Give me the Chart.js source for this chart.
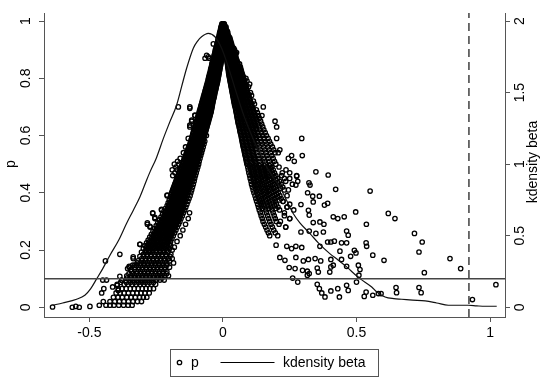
<!DOCTYPE html>
<html><head><meta charset="utf-8">
<script src="https://cdn.jsdelivr.net/npm/chart.js@4.4.1/dist/chart.umd.min.js"></script>
<style>html,body{margin:0;padding:0;background:#fff}#wrap{width:550px;height:382px}</style>
</head><body><div id="wrap"><canvas id="c" width="550" height="382"></canvas></div>
<script>
// ---------- data ----------
const xTicks = [-0.5, 0, 0.5, 1];
const pTicks = [0, 0.2, 0.4, 0.6, 0.8, 1];
const kdTicks = [0, 0.5, 1, 1.5, 2];
const seriesNames = ['p', 'kdensity beta'];
const yTitle = 'p';
const y2Title = 'kdensity beta';
const refP = 0.1;      // horizontal reference line
const refBeta = 0.921; // dashed vertical line

// kernel density of beta (right axis)
const kdX = [-0.638,-0.6,-0.548,-0.517,-0.495,-0.473,-0.45,-0.423,-0.39,-0.361,-0.335,-0.311,-0.286,-0.273,-0.25,-0.223,-0.2,-0.174,-0.155,-0.136,-0.111,-0.095,-0.08,-0.055,-0.03,-0.005,0.02,0.05,0.08,0.11,0.14,0.17,0.213,0.24,0.263,0.288,0.326,0.357,0.4,0.432,0.463,0.5,0.513,0.557,0.576,0.607,0.64,0.669,0.71,0.757,0.8,0.844,0.919,0.95,0.981,1.025];
const kdY = [0.014,0.03,0.056,0.084,0.13,0.198,0.27,0.364,0.47,0.585,0.68,0.771,0.888,0.946,1.04,1.18,1.29,1.41,1.54,1.67,1.81,1.86,1.89,1.914,1.89,1.81,1.68,1.5,1.33,1.19,1.07,0.96,0.84,0.74,0.655,0.59,0.515,0.45,0.375,0.329,0.282,0.22,0.2,0.142,0.107,0.072,0.06,0.056,0.05,0.044,0.03,0.014,0.014,0.01,0.007,0.007];

// scatter p vs beta: rows [p, beta, beta, ...] for the dense left branch
const leftRows = [
[0.99,-0.004,-0.001,0.002],[0.98,-0.007,-0.003,0.001],[0.97,-0.009,-0.005,-0.001],
[0.96,-0.012,-0.008,-0.004,0],[0.95,-0.014,-0.01,-0.006,-0.002],[0.94,-0.017,-0.012,-0.008,-0.004,0],
[0.93,-0.019,-0.014,-0.01,-0.006,-0.002],[0.92,-0.036,-0.022,-0.017,-0.012,-0.008,-0.004,0],
[0.91,-0.025,-0.02,-0.015,-0.01,-0.006,-0.002],[0.90,-0.028,-0.023,-0.018,-0.013,-0.008,-0.004,0],
[0.89,-0.03,-0.025,-0.02,-0.015,-0.01,-0.006,-0.002],[0.88,-0.061,-0.033,-0.028,-0.022,-0.017,-0.012,-0.007,-0.003],
[0.87,-0.067,-0.052,-0.035,-0.03,-0.024,-0.019,-0.014,-0.009,-0.004],[0.86,-0.038,-0.032,-0.026,-0.021,-0.016,-0.011,-0.006],
[0.85,-0.041,-0.035,-0.029,-0.023,-0.018,-0.013,-0.008],[0.84,-0.043,-0.037,-0.031,-0.025,-0.02,-0.015,-0.01],
[0.83,-0.046,-0.04,-0.034,-0.028,-0.022,-0.017,-0.012],[0.82,-0.048,-0.042,-0.036,-0.03,-0.024,-0.019,-0.014],
[0.81,-0.051,-0.045,-0.039,-0.033,-0.027,-0.021,-0.016],[0.80,-0.054,-0.047,-0.041,-0.035,-0.029,-0.023,-0.018],
[0.79,-0.056,-0.05,-0.044,-0.038,-0.032,-0.026,-0.02],[0.78,-0.059,-0.052,-0.046,-0.04,-0.034,-0.028,-0.022],
[0.77,-0.062,-0.055,-0.049,-0.043,-0.037,-0.031,-0.025],[0.76,-0.065,-0.058,-0.051,-0.045,-0.039,-0.033,-0.027],
[0.75,-0.068,-0.061,-0.054,-0.048,-0.042,-0.036,-0.03],[0.74,-0.071,-0.064,-0.057,-0.05,-0.044,-0.038,-0.032],
[0.73,-0.074,-0.066,-0.059,-0.052,-0.046,-0.04,-0.034],[0.72,-0.077,-0.069,-0.062,-0.055,-0.049,-0.043,-0.037],
[0.71,-0.08,-0.072,-0.065,-0.058,-0.051,-0.045,-0.039],[0.70,-0.167,-0.124,-0.083,-0.075,-0.068,-0.061,-0.054,-0.047,-0.041],
[0.69,-0.086,-0.078,-0.07,-0.063,-0.056,-0.049,-0.043],[0.68,-0.089,-0.081,-0.073,-0.066,-0.059,-0.052,-0.045],
[0.67,-0.105,-0.092,-0.084,-0.076,-0.069,-0.062,-0.055,-0.048],[0.66,-0.095,-0.087,-0.079,-0.072,-0.065,-0.058,-0.051],
[0.65,-0.117,-0.098,-0.09,-0.082,-0.075,-0.068,-0.061,-0.054],[0.64,-0.101,-0.093,-0.085,-0.078,-0.071,-0.064,-0.057],
[0.63,-0.124,-0.104,-0.096,-0.088,-0.081,-0.074,-0.067,-0.06],[0.62,-0.108,-0.099,-0.091,-0.084,-0.077,-0.07,-0.063],
[0.61,-0.111,-0.102,-0.094,-0.087,-0.08,-0.073,-0.066],[0.60,-0.114,-0.105,-0.097,-0.09,-0.083,-0.076,-0.069,-0.062],
[0.59,-0.13,-0.117,-0.108,-0.1,-0.093,-0.086,-0.079,-0.072],[0.58,-0.12,-0.111,-0.103,-0.096,-0.089,-0.082,-0.075,-0.068],
[0.57,-0.123,-0.114,-0.106,-0.099,-0.092,-0.085,-0.078,-0.071],[0.56,-0.14,-0.127,-0.118,-0.11,-0.102,-0.095,-0.088,-0.081,-0.074],
[0.55,-0.131,-0.122,-0.114,-0.106,-0.098,-0.091,-0.084,-0.077],[0.54,-0.148,-0.135,-0.126,-0.117,-0.109,-0.101,-0.094,-0.087,-0.08],
[0.53,-0.139,-0.13,-0.121,-0.113,-0.105,-0.097,-0.09,-0.083],[0.52,-0.16,-0.143,-0.134,-0.125,-0.116,-0.108,-0.1,-0.093,-0.086],
[0.51,-0.17,-0.148,-0.138,-0.129,-0.12,-0.111,-0.103,-0.096,-0.089],[0.50,-0.182,-0.165,-0.152,-0.142,-0.132,-0.123,-0.114,-0.106,-0.098,-0.091],
[0.49,-0.176,-0.156,-0.146,-0.136,-0.127,-0.118,-0.109,-0.101,-0.094],[0.48,-0.19,-0.172,-0.16,-0.15,-0.14,-0.13,-0.121,-0.112,-0.104,-0.097],
[0.47,-0.18,-0.164,-0.154,-0.144,-0.134,-0.125,-0.116,-0.107,-0.1],[0.46,-0.188,-0.168,-0.158,-0.148,-0.138,-0.128,-0.119,-0.11,-0.103],
[0.45,-0.172,-0.162,-0.152,-0.142,-0.132,-0.122,-0.113,-0.106],[0.44,-0.176,-0.166,-0.156,-0.146,-0.136,-0.126,-0.116,-0.108],
[0.43,-0.18,-0.17,-0.16,-0.15,-0.14,-0.13,-0.12,-0.111],[0.42,-0.184,-0.174,-0.164,-0.154,-0.144,-0.134,-0.124,-0.114],
[0.41,-0.188,-0.178,-0.168,-0.158,-0.148,-0.138,-0.128,-0.117],[0.40,-0.192,-0.182,-0.172,-0.162,-0.152,-0.141,-0.131,-0.12],
[0.39,-0.209,-0.186,-0.176,-0.166,-0.156,-0.145,-0.134,-0.123],[0.38,-0.19,-0.18,-0.17,-0.16,-0.149,-0.138,-0.127],
[0.37,-0.195,-0.184,-0.174,-0.164,-0.153,-0.142,-0.131],[0.36,-0.2,-0.188,-0.178,-0.168,-0.157,-0.146,-0.135],
[0.35,-0.205,-0.193,-0.182,-0.172,-0.161,-0.15,-0.139],[0.34,-0.23,-0.21,-0.198,-0.187,-0.176,-0.165,-0.154,-0.143],
[0.33,-0.263,-0.215,-0.203,-0.192,-0.181,-0.17,-0.159,-0.148,-0.125],[0.32,-0.22,-0.208,-0.196,-0.185,-0.174,-0.163,-0.152],
[0.31,-0.255,-0.226,-0.214,-0.202,-0.19,-0.179,-0.168,-0.157,-0.13],[0.30,-0.232,-0.22,-0.208,-0.196,-0.184,-0.172,-0.161],
[0.29,-0.283,-0.238,-0.226,-0.214,-0.202,-0.19,-0.178,-0.166,-0.14],[0.28,-0.273,-0.244,-0.232,-0.22,-0.207,-0.195,-0.183,-0.171],
[0.27,-0.25,-0.238,-0.225,-0.212,-0.2,-0.188,-0.176,-0.15],[0.26,-0.256,-0.243,-0.23,-0.218,-0.205,-0.193,-0.181],
[0.25,-0.262,-0.249,-0.236,-0.223,-0.21,-0.198,-0.186,-0.16],[0.24,-0.268,-0.255,-0.242,-0.229,-0.216,-0.203,-0.191],
[0.23,-0.274,-0.261,-0.248,-0.234,-0.221,-0.208,-0.196,-0.172],[0.22,-0.311,-0.28,-0.267,-0.253,-0.24,-0.227,-0.213,-0.2],
[0.21,-0.286,-0.272,-0.259,-0.245,-0.232,-0.218,-0.205,-0.182],[0.20,-0.288,-0.278,-0.264,-0.25,-0.237,-0.223,-0.21,-0.19],
[0.185,-0.386,-0.298,-0.284,-0.27,-0.256,-0.242,-0.228,-0.214,-0.195],[0.17,-0.336,-0.304,-0.29,-0.276,-0.262,-0.248,-0.234,-0.22,-0.205,-0.19],
[0.155,-0.321,-0.31,-0.296,-0.282,-0.268,-0.254,-0.24,-0.226,-0.21,-0.185],[0.14,-0.351,-0.33,-0.316,-0.302,-0.288,-0.274,-0.26,-0.246,-0.232,-0.218,-0.2],
[0.125,-0.342,-0.322,-0.308,-0.294,-0.28,-0.266,-0.252,-0.238,-0.224,-0.21],[0.11,-0.36,-0.344,-0.33,-0.316,-0.302,-0.288,-0.274,-0.26,-0.246,-0.232,-0.218,-0.204],
[0.095,-0.45,-0.436,-0.379,-0.352,-0.338,-0.323,-0.309,-0.295,-0.281,-0.267,-0.25,-0.236,-0.22],[0.08,-0.396,-0.37,-0.355,-0.34,-0.325,-0.31,-0.296,-0.282,-0.268,-0.252],
[0.065,-0.392,-0.378,-0.362,-0.347,-0.332,-0.317,-0.302,-0.288,-0.274,-0.26],[0.05,-0.454,-0.4,-0.385,-0.37,-0.354,-0.338,-0.322,-0.307,-0.292,-0.276],
[0.035,-0.41,-0.393,-0.377,-0.36,-0.344,-0.328,-0.312,-0.298,-0.285],[0.02,-0.448,-0.423,-0.405,-0.388,-0.371,-0.354,-0.337,-0.32,-0.305],
[0.007,-0.463,-0.438,-0.423,-0.408,-0.39,-0.372,-0.355,-0.34]
];
// extra in-between rows of the left branch (dense, overlapping markers)
const leftRowsMid = [
[0.985,-0.005,-0.001],[0.975,-0.008,-0.004,0],[0.965,-0.01,-0.006,-0.002],[0.955,-0.013,-0.009,-0.005,-0.001],
[0.945,-0.015,-0.011,-0.007,-0.003],[0.935,-0.018,-0.013,-0.009,-0.005,-0.001],[0.925,-0.02,-0.015,-0.011,-0.007,-0.003],
[0.915,-0.023,-0.018,-0.013,-0.009,-0.005,-0.001],[0.905,-0.026,-0.021,-0.016,-0.011,-0.007,-0.003],
[0.895,-0.029,-0.024,-0.019,-0.014,-0.009,-0.005,-0.001],[0.885,-0.031,-0.026,-0.021,-0.016,-0.011,-0.006,-0.002],
[0.875,-0.034,-0.029,-0.024,-0.019,-0.014,-0.009,-0.004],[0.865,-0.037,-0.031,-0.025,-0.02,-0.015,-0.01,-0.005],
[0.855,-0.04,-0.034,-0.028,-0.022,-0.017,-0.012,-0.007],[0.845,-0.042,-0.036,-0.03,-0.024,-0.019,-0.014,-0.009],
[0.835,-0.045,-0.039,-0.033,-0.027,-0.021,-0.016,-0.011],[0.825,-0.047,-0.041,-0.035,-0.029,-0.023,-0.018,-0.013],
[0.815,-0.05,-0.044,-0.038,-0.032,-0.026,-0.02,-0.015],[0.805,-0.053,-0.046,-0.04,-0.034,-0.028,-0.022,-0.017],
[0.795,-0.055,-0.049,-0.043,-0.037,-0.031,-0.025,-0.019],[0.785,-0.058,-0.051,-0.045,-0.039,-0.033,-0.027,-0.021],
[0.775,-0.061,-0.054,-0.048,-0.042,-0.036,-0.03,-0.024],[0.765,-0.064,-0.057,-0.05,-0.044,-0.038,-0.032,-0.026],
[0.755,-0.067,-0.06,-0.053,-0.047,-0.041,-0.035,-0.029],[0.745,-0.07,-0.063,-0.056,-0.049,-0.043,-0.037,-0.031],
[0.735,-0.073,-0.065,-0.058,-0.051,-0.045,-0.039,-0.033],[0.725,-0.076,-0.068,-0.061,-0.054,-0.048,-0.042,-0.036],
[0.715,-0.079,-0.071,-0.064,-0.057,-0.05,-0.044,-0.038],[0.705,-0.082,-0.074,-0.067,-0.06,-0.053,-0.046,-0.04],
[0.695,-0.085,-0.077,-0.069,-0.062,-0.055,-0.048,-0.042],[0.685,-0.088,-0.08,-0.072,-0.065,-0.058,-0.051,-0.044],
[0.675,-0.091,-0.083,-0.075,-0.068,-0.061,-0.054,-0.047],[0.665,-0.094,-0.086,-0.078,-0.071,-0.064,-0.057,-0.05],
[0.655,-0.097,-0.089,-0.081,-0.074,-0.067,-0.06,-0.053],[0.645,-0.1,-0.092,-0.084,-0.077,-0.07,-0.063,-0.056],
[0.635,-0.103,-0.095,-0.087,-0.08,-0.073,-0.066,-0.059],[0.625,-0.106,-0.098,-0.09,-0.083,-0.076,-0.069,-0.062],
[0.615,-0.11,-0.101,-0.093,-0.086,-0.079,-0.072,-0.065],[0.605,-0.113,-0.104,-0.096,-0.089,-0.082,-0.075,-0.068],
[0.595,-0.116,-0.107,-0.099,-0.092,-0.085,-0.078,-0.071],[0.585,-0.119,-0.11,-0.102,-0.095,-0.088,-0.081,-0.074],
[0.575,-0.122,-0.113,-0.105,-0.098,-0.091,-0.084,-0.077],[0.565,-0.126,-0.117,-0.109,-0.101,-0.094,-0.087,-0.08],
[0.555,-0.13,-0.121,-0.113,-0.105,-0.097,-0.09,-0.083],[0.545,-0.134,-0.125,-0.116,-0.108,-0.1,-0.093,-0.086],
[0.535,-0.138,-0.129,-0.12,-0.112,-0.104,-0.096,-0.089],[0.525,-0.142,-0.133,-0.124,-0.115,-0.107,-0.099,-0.092],
[0.515,-0.146,-0.137,-0.128,-0.119,-0.11,-0.102,-0.095],[0.505,-0.15,-0.141,-0.132,-0.123,-0.114,-0.106,-0.098],
[0.495,-0.154,-0.145,-0.136,-0.127,-0.118,-0.11,-0.102],[0.485,-0.158,-0.149,-0.14,-0.131,-0.122,-0.113,-0.105],
[0.475,-0.162,-0.153,-0.144,-0.135,-0.126,-0.117,-0.109],[0.465,-0.166,-0.157,-0.148,-0.139,-0.13,-0.121,-0.112],
[0.455,-0.17,-0.161,-0.152,-0.143,-0.134,-0.125,-0.116],[0.445,-0.174,-0.165,-0.156,-0.147,-0.138,-0.129,-0.12],
[0.435,-0.178,-0.169,-0.16,-0.151,-0.142,-0.133,-0.124],[0.425,-0.182,-0.173,-0.164,-0.155,-0.146,-0.137,-0.128],
[0.415,-0.186,-0.177,-0.168,-0.159,-0.15,-0.141,-0.132],[0.405,-0.19,-0.181,-0.172,-0.163,-0.154,-0.145,-0.136],
[0.395,-0.194,-0.185,-0.176,-0.167,-0.158,-0.149,-0.14],[0.385,-0.197,-0.188,-0.179,-0.17,-0.161,-0.152,-0.143],
[0.375,-0.201,-0.192,-0.183,-0.174,-0.165,-0.156,-0.147],[0.365,-0.205,-0.196,-0.187,-0.178,-0.169,-0.16,-0.151],
[0.355,-0.209,-0.2,-0.191,-0.182,-0.173,-0.164,-0.155],
[0.345,-0.216,-0.204,-0.192,-0.181,-0.17,-0.159,-0.148],[0.335,-0.221,-0.209,-0.197,-0.186,-0.175,-0.164,-0.153],
[0.325,-0.226,-0.214,-0.202,-0.19,-0.179,-0.168,-0.157],[0.315,-0.232,-0.22,-0.208,-0.196,-0.184,-0.173,-0.162],
[0.305,-0.238,-0.226,-0.214,-0.202,-0.19,-0.178,-0.166],[0.295,-0.244,-0.232,-0.22,-0.208,-0.196,-0.184,-0.172],
[0.285,-0.25,-0.238,-0.226,-0.213,-0.201,-0.189,-0.177],[0.275,-0.256,-0.244,-0.231,-0.218,-0.206,-0.194,-0.182],
[0.265,-0.262,-0.25,-0.237,-0.224,-0.211,-0.199,-0.187],[0.255,-0.268,-0.255,-0.242,-0.229,-0.216,-0.204,-0.192],
[0.245,-0.274,-0.261,-0.248,-0.235,-0.222,-0.209,-0.197],[0.235,-0.28,-0.267,-0.254,-0.241,-0.227,-0.214,-0.201],
[0.225,-0.286,-0.273,-0.26,-0.246,-0.233,-0.22,-0.206],[0.215,-0.292,-0.279,-0.265,-0.252,-0.238,-0.225,-0.211,-0.196],
[0.205,-0.298,-0.284,-0.27,-0.257,-0.243,-0.23,-0.216,-0.2],[0.193,-0.305,-0.291,-0.277,-0.263,-0.249,-0.235,-0.221,-0.206],
[0.178,-0.311,-0.297,-0.283,-0.269,-0.255,-0.241,-0.227,-0.212,-0.198],[0.162,-0.318,-0.303,-0.289,-0.275,-0.261,-0.247,-0.233,-0.218,-0.2],
[0.147,-0.338,-0.323,-0.309,-0.295,-0.281,-0.267,-0.253,-0.239,-0.225,-0.21],[0.132,-0.345,-0.33,-0.315,-0.301,-0.287,-0.273,-0.259,-0.245,-0.231,-0.217],
[0.117,-0.352,-0.337,-0.323,-0.309,-0.295,-0.281,-0.267,-0.253,-0.239,-0.225,-0.211],[0.102,-0.36,-0.345,-0.331,-0.316,-0.302,-0.288,-0.274,-0.259,-0.243,-0.228],
[0.087,-0.383,-0.362,-0.347,-0.332,-0.317,-0.303,-0.289,-0.275,-0.26]
];
// rows [p, beta, ...] for the right branch
const rightRows = [
[0.99,0.002,0.005],[0.98,0.003,0.007,0.011],[0.97,0.004,0.008,0.012],[0.96,0.004,0.009,0.014,0.018],
[0.95,0.005,0.01,0.015,0.02],[0.94,0.006,0.011,0.016,0.021,0.026],[0.93,0.007,0.012,0.018,0.024,0.029],
[0.92,0.008,0.014,0.02,0.026,0.032],[0.91,0.009,0.015,0.021,0.028,0.035],[0.90,0.01,0.016,0.023,0.03,0.037,0.043],
[0.89,0.011,0.018,0.025,0.032,0.039,0.045,0.051],[0.88,0.012,0.019,0.026,0.033,0.04,0.047],[0.87,0.014,0.021,0.028,0.035,0.042,0.049],
[0.86,0.015,0.022,0.029,0.037,0.045,0.053],[0.85,0.017,0.024,0.031,0.039,0.047,0.055,0.062],[0.84,0.018,0.025,0.033,0.041,0.049,0.057,0.065],
[0.83,0.02,0.027,0.035,0.043,0.051,0.059,0.067],[0.82,0.021,0.029,0.037,0.045,0.053,0.062,0.07],[0.81,0.023,0.031,0.039,0.047,0.056,0.065,0.074],
[0.80,0.025,0.033,0.041,0.05,0.059,0.068,0.077,0.086],[0.79,0.027,0.035,0.043,0.052,0.061,0.07,0.08,0.09],
[0.78,0.029,0.037,0.045,0.054,0.063,0.073,0.083,0.1],[0.77,0.031,0.039,0.048,0.057,0.066,0.076,0.086,0.096],
[0.76,0.033,0.041,0.05,0.059,0.069,0.079,0.089],[0.75,0.035,0.043,0.052,0.062,0.072,0.082,0.092,0.103],
[0.74,0.037,0.046,0.055,0.065,0.075,0.085,0.096,0.107],[0.73,0.039,0.048,0.057,0.067,0.077,0.088,0.099],
[0.72,0.041,0.05,0.06,0.07,0.08,0.091,0.102,0.114],[0.71,0.043,0.052,0.062,0.072,0.083,0.094,0.106,0.118],
[0.70,0.046,0.055,0.065,0.075,0.086,0.097,0.109,0.151],[0.69,0.048,0.058,0.068,0.078,0.089,0.101,0.113,0.125],
[0.68,0.05,0.06,0.07,0.081,0.092,0.104,0.116,0.129],[0.67,0.052,0.062,0.073,0.084,0.095,0.107,0.12,0.133,0.146],
[0.66,0.054,0.065,0.076,0.087,0.099,0.111,0.124,0.137],[0.65,0.056,0.067,0.078,0.09,0.102,0.114,0.127,0.141,0.195],
[0.64,0.058,0.07,0.082,0.094,0.106,0.118,0.131,0.145],[0.63,0.061,0.073,0.085,0.097,0.109,0.122,0.135,0.149,0.201],
[0.62,0.063,0.075,0.088,0.1,0.113,0.126,0.139,0.153],[0.61,0.065,0.078,0.091,0.104,0.117,0.13,0.144,0.158],
[0.60,0.068,0.081,0.094,0.107,0.121,0.135,0.149,0.163],[0.59,0.07,0.083,0.097,0.111,0.125,0.139,0.154,0.169,0.201,0.295],
[0.58,0.072,0.086,0.1,0.114,0.129,0.143,0.158,0.174],[0.57,0.074,0.088,0.103,0.118,0.133,0.148,0.163,0.179],
[0.56,0.076,0.091,0.106,0.121,0.137,0.152,0.168,0.185],[0.55,0.079,0.094,0.109,0.125,0.141,0.157,0.173,0.19,0.213],
[0.54,0.081,0.096,0.112,0.128,0.144,0.161,0.178,0.195,0.207],[0.53,0.083,0.099,0.115,0.132,0.148,0.165,0.183,0.257,0.297],
[0.52,0.086,0.102,0.118,0.135,0.152,0.17,0.188,0.245],[0.51,0.088,0.104,0.121,0.138,0.156,0.174,0.193,0.267],
[0.50,0.09,0.107,0.124,0.142,0.16,0.179,0.198],[0.49,0.093,0.11,0.127,0.145,0.164,0.183,0.21],
[0.48,0.095,0.112,0.13,0.149,0.168,0.188,0.236],[0.47,0.097,0.115,0.133,0.152,0.172,0.193,0.222,0.25],
[0.46,0.1,0.118,0.137,0.156,0.176,0.198,0.22,0.276],[0.45,0.102,0.12,0.14,0.16,0.181,0.205,0.23,0.25],
[0.44,0.105,0.124,0.144,0.165,0.187,0.212,0.235,0.28],[0.43,0.107,0.127,0.148,0.17,0.192,0.218,0.26],
[0.42,0.11,0.13,0.152,0.174,0.197,0.224],[0.41,0.113,0.134,0.156,0.178,0.202,0.23,0.245],
[0.40,0.116,0.138,0.16,0.183,0.207],[0.39,0.12,0.142,0.164,0.187,0.213,0.24],[0.38,0.123,0.145,0.168,0.192,0.218],
[0.37,0.126,0.148,0.172,0.196,0.225],[0.36,0.13,0.152,0.176,0.2,0.25],[0.35,0.133,0.156,0.18,0.206,0.24],
[0.34,0.136,0.16,0.184,0.212,0.265],[0.33,0.14,0.163,0.188,0.23],[0.32,0.143,0.167,0.192,0.23],
[0.31,0.147,0.171,0.196,0.25],[0.30,0.15,0.175,0.2,0.215],[0.29,0.155,0.18,0.21],[0.28,0.16,0.185,0.235],
[0.27,0.165,0.19],[0.26,0.17,0.196],[0.25,0.175,0.205]
];
// extra in-between rows of the right branch
const rightRowsMid = [
[0.985,0.003,0.006],[0.975,0.004,0.008,0.011],[0.965,0.004,0.008,0.012,0.016],[0.955,0.005,0.009,0.013,0.017],
[0.945,0.006,0.01,0.014,0.019,0.023],[0.935,0.007,0.012,0.017,0.022,0.027],[0.925,0.008,0.013,0.019,0.025,0.03],
[0.915,0.009,0.014,0.02,0.026,0.033],[0.905,0.01,0.016,0.022,0.029,0.036,0.04],[0.895,0.011,0.017,0.024,0.031,0.038,0.044],
[0.885,0.012,0.019,0.026,0.033,0.04,0.047],[0.875,0.013,0.02,0.027,0.034,0.041,0.048],[0.865,0.015,0.022,0.029,0.036,0.044,0.051],
[0.855,0.016,0.023,0.031,0.039,0.047,0.055],[0.845,0.018,0.025,0.033,0.041,0.049,0.057],[0.835,0.019,0.027,0.035,0.043,0.051,0.059,0.066],
[0.825,0.021,0.028,0.036,0.044,0.052,0.061,0.069],[0.815,0.022,0.03,0.038,0.046,0.055,0.064,0.072],
[0.805,0.024,0.032,0.04,0.049,0.058,0.067,0.076],[0.795,0.026,0.034,0.042,0.051,0.06,0.069,0.079],
[0.785,0.028,0.036,0.044,0.053,0.062,0.072,0.082],[0.775,0.03,0.038,0.047,0.056,0.065,0.075,0.085],
[0.765,0.032,0.04,0.049,0.058,0.068,0.078,0.088],[0.755,0.034,0.042,0.051,0.061,0.071,0.081,0.091],
[0.745,0.036,0.045,0.054,0.064,0.074,0.084,0.095],[0.735,0.038,0.047,0.056,0.066,0.076,0.087,0.098],
[0.725,0.04,0.049,0.059,0.069,0.079,0.09,0.101],[0.715,0.042,0.051,0.061,0.071,0.082,0.093,0.105],
[0.705,0.044,0.054,0.064,0.074,0.085,0.096,0.108],[0.695,0.047,0.057,0.067,0.077,0.088,0.1,0.112],
[0.685,0.049,0.059,0.069,0.08,0.091,0.103,0.115],[0.675,0.051,0.061,0.072,0.083,0.094,0.106,0.118],
[0.665,0.053,0.064,0.075,0.086,0.098,0.11,0.122],[0.655,0.055,0.066,0.077,0.089,0.101,0.113,0.126],
[0.645,0.057,0.069,0.081,0.093,0.105,0.117],[0.635,0.06,0.072,0.084,0.096,0.108,0.121],
[0.625,0.062,0.074,0.087,0.099,0.112,0.125],[0.615,0.064,0.077,0.09,0.103,0.116],
[0.605,0.067,0.08,0.093,0.106,0.12],[0.595,0.069,0.082,0.096,0.11,0.124],
[0.585,0.071,0.085,0.099,0.113],[0.575,0.073,0.087,0.102,0.117],[0.565,0.075,0.09,0.105,0.12],
[0.555,0.078,0.093,0.108,0.124],[0.545,0.08,0.095,0.111],[0.535,0.082,0.098,0.114],
[0.525,0.085,0.101,0.117],[0.515,0.087,0.103,0.12],[0.505,0.089,0.106,0.123],
[0.495,0.1,0.118,0.136,0.155,0.174],[0.485,0.103,0.121,0.14,0.159,0.178],[0.475,0.106,0.124,0.143,0.162,0.182],
[0.465,0.109,0.128,0.147,0.166,0.187],[0.455,0.112,0.131,0.15,0.17,0.192],[0.445,0.115,0.134,0.154,0.175,0.198],
[0.435,0.117,0.137,0.158,0.18,0.205],[0.425,0.12,0.141,0.163,0.185,0.21],[0.415,0.123,0.145,0.167,0.19,0.215],
[0.405,0.126,0.149,0.171,0.195],[0.395,0.13,0.153,0.175,0.2],[0.385,0.133,0.156,0.18,0.205],
[0.375,0.137,0.16,0.184,0.21],[0.365,0.141,0.164,0.188],[0.355,0.144,0.168,0.193],[0.345,0.148,0.172,0.198]
];
// individually read scattered observations [beta, p]
const leftOutliers = [[-0.638,0.001],[-0.564,0],[-0.551,0.003],[-0.538,0],[-0.498,0.003],[-0.44,0.162],
[-0.413,0.071],[-0.396,0.077],[-0.386,0.108],[-0.379,0.094],[-0.357,0.135],[-0.351,0.143],[-0.336,0.176],
[-0.33,0.147],[-0.311,0.22],[-0.288,0.199],[-0.273,0.197],[-0.283,0.295],[-0.273,0.283],[-0.263,0.328],
[-0.255,0.314],[-0.23,0.342],[-0.209,0.392],[-0.446,0.065],[-0.392,0.059],[-0.124,0.695],[-0.105,0.671],
[-0.117,0.654],[-0.124,0.636],[-0.055,0.875]];
const tailPoints = [[0.276,0.458],[0.348,0.473],[0.394,0.462],[0.322,0.435],[0.326,0.427],[0.273,0.427],[0.422,0.412],
[0.551,0.406],[0.317,0.4],[0.336,0.388],[0.361,0.388],[0.338,0.368],[0.292,0.359],[0.38,0.357],[0.392,0.363],
[0.32,0.339],[0.323,0.322],[0.497,0.333],[0.413,0.316],[0.43,0.31],[0.454,0.316],[0.338,0.296],[0.363,0.298],
[0.378,0.29],[0.537,0.29],[0.292,0.263],[0.323,0.266],[0.348,0.258],[0.376,0.263],[0.463,0.266],[0.469,0.252],
[0.392,0.228],[0.404,0.228],[0.417,0.231],[0.444,0.225],[0.463,0.225],[0.536,0.225],[0.538,0.213],[0.363,0.213],
[0.239,0.213],[0.257,0.205],[0.273,0.213],[0.295,0.209],[0.199,0.217],[0.438,0.196],[0.492,0.199],[0.498,0.19],
[0.478,0.178],[0.561,0.182],[0.213,0.174],[0.232,0.164],[0.273,0.174],[0.301,0.162],[0.32,0.167],[0.345,0.17],
[0.366,0.162],[0.404,0.167],[0.413,0.147],[0.444,0.167],[0.248,0.139],[0.27,0.135],[0.298,0.129],[0.323,0.118],
[0.316,0.126],[0.353,0.137],[0.357,0.123],[0.404,0.141],[0.4,0.123],[0.463,0.143],[0.507,0.147],[0.513,0.132],
[0.509,0.112],[0.261,0.102],[0.28,0.088],[0.316,0.112],[0.5,0.088],[0.353,0.08],[0.361,0.065],[0.37,0.05],
[0.382,0.036],[0.404,0.057],[0.43,0.065],[0.436,0.036],[0.463,0.077],[0.469,0.059],[0.536,0.053],[0.529,0.038],
[0.561,0.042],[0.582,0.048],[0.619,0.328],[0.644,0.31],[0.717,0.258],[0.746,0.228],[0.734,0.193],[0.603,0.164],
[0.754,0.121],[0.85,0.17],[0.89,0.135],[1.022,0.079],[0.934,0.027],[0.648,0.069],[0.65,0.051],[0.734,0.069],
[0.742,0.051],[0.592,0.048],[0.225,0.37],[0.24,0.35],[0.25,0.31],[0.235,0.28]];

// ---------- build chart ----------
const pPoints = [];
for (const rows of [leftRows, leftRowsMid, rightRows, rightRowsMid])
  for (const r of rows) for (let i = 1; i < r.length; i++) pPoints.push({x: r[i], y: r[0]});
for (const q of leftOutliers) pPoints.push({x: q[0], y: q[1]});
for (const q of tailPoints) pPoints.push({x: q[0], y: q[1]});
const kdPoints = kdX.map((v, i) => ({x: v, y: kdY[i]}));

const X_MIN = -0.67, X_MAX = 1.056, P_MIN = -0.034, P_MAX = 1.028;
const FONT = "'Liberation Sans', Arial, Helvetica, sans-serif";
const AX = '#555';

const deco = {
  id: 'deco',
  afterDraw(chart) {
    const ctx = chart.ctx;
    ctx.save();
    ctx.fillStyle = '#000';
    ctx.font = '14px ' + FONT;
    ctx.textAlign = 'center';
    ctx.textBaseline = 'alphabetic';
    ctx.save(); ctx.translate(15, 164); ctx.rotate(-Math.PI / 2); ctx.fillText(yTitle, 0, 0); ctx.restore();
    ctx.save(); ctx.translate(537, 162); ctx.rotate(-Math.PI / 2); ctx.fillText(y2Title, 0, 0); ctx.restore();
    // legend
    ctx.strokeStyle = AX; ctx.lineWidth = 1;
    ctx.strokeRect(170.5, 349.5, 208, 27);
    ctx.strokeStyle = '#000'; ctx.lineWidth = 1.3;
    ctx.beginPath(); ctx.arc(179.5, 362.5, 2.2, 0, Math.PI * 2); ctx.stroke();
    ctx.textAlign = 'left';
    ctx.fillText(chart.data.datasets[0].label, 191, 367);
    ctx.lineWidth = 1.2;
    ctx.beginPath(); ctx.moveTo(220.5, 362.5); ctx.lineTo(274.5, 362.5); ctx.stroke();
    ctx.fillText(chart.data.datasets[1].label, 283, 367);
    ctx.restore();
  }
};

new Chart(document.getElementById('c'), {
  data: {
    datasets: [
      { type: 'scatter', label: seriesNames[0], data: pPoints, yAxisID: 'y',
        pointStyle: 'circle', pointRadius: 2.2, pointBorderWidth: 1.3,
        borderColor: '#000', backgroundColor: 'rgba(0,0,0,0)', order: 2 },
      { type: 'line', label: seriesNames[1], data: kdPoints, yAxisID: 'y2',
        borderColor: '#111', borderWidth: 1.2, pointRadius: 0, fill: false,
        cubicInterpolationMode: 'monotone', order: 1 },
      { type: 'line', label: 'ref p', data: [{x: X_MIN, y: refP}, {x: X_MAX, y: refP}], yAxisID: 'y',
        borderColor: '#444', borderWidth: 1.5, pointRadius: 0, fill: false, order: 0 },
      { type: 'line', label: 'ref beta', data: [{x: refBeta, y: P_MIN}, {x: refBeta, y: P_MAX}], yAxisID: 'y',
        borderColor: '#222', borderWidth: 1.3, borderDash: [8, 5], pointRadius: 0, fill: false, order: 0 }
    ]
  },
  options: {
    responsive: false, animation: false, devicePixelRatio: 1,
    layout: { padding: { top: 13, left: 0, right: 0, bottom: 0 } },
    plugins: { legend: { display: false }, tooltip: { enabled: false } },
    scales: {
      x: {
        type: 'linear', position: 'bottom', min: X_MIN, max: X_MAX,
        afterBuildTicks: s => { s.ticks = xTicks.map(v => ({value: v})); },
        afterFit: s => { s.height = 65; },
        ticks: { color: '#000', font: { family: FONT, size: 14 }, padding: 3, maxRotation: 0, callback: v => String(v) },
        grid: { drawOnChartArea: false, drawTicks: true, tickLength: 5, color: AX, lineWidth: 1 },
        border: { display: true, color: AX, width: 1 }
      },
      y: {
        type: 'linear', position: 'left', min: P_MIN, max: P_MAX,
        afterBuildTicks: s => { s.ticks = pTicks.map(v => ({value: v})); },
        afterFit: s => { s.width = 44; },
        ticks: { color: '#000', font: { family: FONT, size: 14 }, padding: 3, minRotation: 90, maxRotation: 90,
                 crossAlign: 'center', callback: v => String(v) },
        grid: { drawOnChartArea: false, drawTicks: true, tickLength: 5, color: AX, lineWidth: 1 },
        border: { display: true, color: AX, width: 1 }
      },
      y2: {
        type: 'linear', position: 'right', min: P_MIN * 2, max: P_MAX * 2,
        afterBuildTicks: s => { s.ticks = kdTicks.map(v => ({value: v})); },
        afterFit: s => { s.width = 45; },
        ticks: { color: '#000', font: { family: FONT, size: 14 }, padding: 0, minRotation: 90, maxRotation: 90,
                 crossAlign: 'center', callback: v => String(v) },
        grid: { drawOnChartArea: false, drawTicks: true, tickLength: 5, color: AX, lineWidth: 1 },
        border: { display: true, color: AX, width: 1 }
      }
    }
  },
  plugins: [deco]
});
</script></body></html>
